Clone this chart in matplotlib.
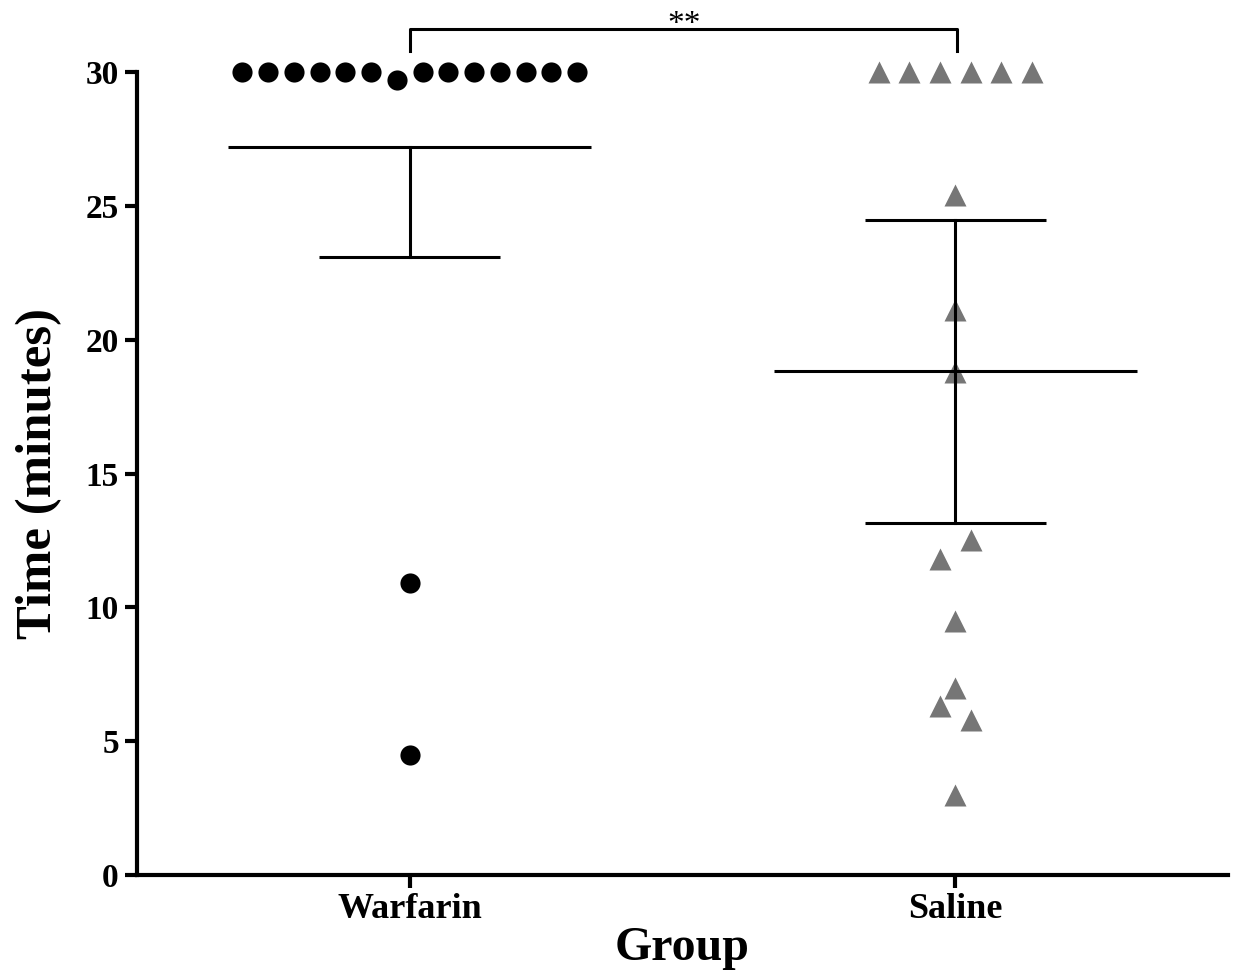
#!/usr/bin/env python3
"""Warfarin vs saline scatter dot plot with mean and 95% CI."""

import matplotlib
matplotlib.use("Agg")
import matplotlib.pyplot as plt
import numpy as np

groups = ["Warfarin", "Saline"]
warfarin = [30, 30, 30, 30, 30, 30, 29.7, 30, 30, 30, 30, 30, 30, 30, 10.9, 4.5]
saline = [30, 30, 30, 30, 30, 30, 25.4, 21.1, 18.8, 12.5, 11.8, 9.5, 7.0, 6.3, 5.8, 3.0]
y_ticks = [0, 5, 10, 15, 20, 25, 30]
t_crit = 2.131  # df = 15

# layout: horizontal jitter slots for overlapping points
warfarin_slots = [-6.5, -5.5, -4.5, -3.5, -2.5, -1.5, -0.5, 0.5, 1.5, 2.5, 3.5, 4.5, 5.5, 6.5, 0, 0]
saline_slots = [-2.5, -1.5, -0.5, 0.5, 1.5, 2.5, 0, 0, 0, 0.5, -0.5, 0, 0, -0.5, 0.5, 0]

plt.rcParams.update({
    "font.family": ["Liberation Serif", "DejaVu Serif"],
    "font.weight": "bold",
})

fig = plt.figure(figsize=(12.33, 9.73), dpi=100)
ax = fig.add_axes([0.111, 0.1007, 0.885, 0.8253])

grey = "#767676"
x_w = 0 + np.array(warfarin_slots) * 0.0472
x_s = 1 + np.array(saline_slots) * 0.056
ax.plot(x_w, warfarin, "o", color="black", ms=14.5, mec="none", clip_on=False, zorder=2)
ax.plot(x_s, saline, "^", color=grey, ms=16.5, mec="none", clip_on=False, zorder=2)

for i, vals in enumerate([warfarin, saline]):
    v = np.array(vals)
    m = v.mean()
    half = t_crit * v.std(ddof=1) / np.sqrt(len(v))
    lo, hi = m - half, m + half
    ax.plot([i - 0.333, i + 0.333], [m, m], color="black", lw=2.2, zorder=3, solid_capstyle="butt")
    ax.plot([i, i], [lo, m], color="black", lw=2.2, zorder=3)
    ax.plot([i - 0.166, i + 0.166], [lo, lo], color="black", lw=2.2, zorder=3, solid_capstyle="butt")
    if hi <= 30:
        ax.plot([i, i], [m, hi], color="black", lw=2.2, zorder=3)
        ax.plot([i - 0.166, i + 0.166], [hi, hi], color="black", lw=2.2, zorder=3, solid_capstyle="butt")

# significance bracket
ax.plot([0, 0, 1.003, 1.003], [30.8, 31.6, 31.6, 30.8], color="black", lw=2.2, clip_on=False)
ax.text(0.503, 31.78, "**", ha="center", va="center", fontsize=24, fontweight="normal")

ax.set_xlim(-0.5, 1.5)
ax.set_ylim(0, 30)
ax.set_yticks(y_ticks)
ax.set_xticks([0, 1])
ax.set_xticklabels(groups)
ax.tick_params(axis="both", length=9, width=3, labelsize=24, pad=4)
ax.tick_params(axis="x", labelsize=26)
ax.set_ylabel("Time (minutes)", fontsize=36.5, fontweight="bold", labelpad=17)
ax.set_xlabel("Group", fontsize=34.5, fontweight="bold", labelpad=0)
for side in ["top", "right"]:
    ax.spines[side].set_visible(False)
for side in ["left", "bottom"]:
    ax.spines[side].set_linewidth(3)

fig.savefig("out.png", dpi=100)
